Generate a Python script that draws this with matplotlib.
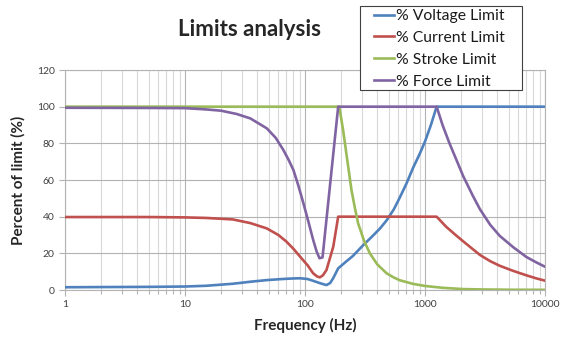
import matplotlib
matplotlib.use("Agg")
import matplotlib.pyplot as plt
from matplotlib.patches import Rectangle
from matplotlib.ticker import LogLocator, FixedLocator, NullFormatter

plt.rcParams['font.family'] = ['Lato', 'DejaVu Sans']

# values
freq_voltage = [1, 2, 5, 10, 15, 25, 35, 48, 65, 80, 91, 105, 117, 135, 151, 162, 172, 189,
                220, 250, 306, 360, 421, 479, 550, 617, 700, 800, 900, 1000, 1120, 1250, 10000]
voltage = [1.5, 1.6, 1.7, 1.9, 2.3, 3.4, 4.5, 5.4, 6.0, 6.3, 6.4, 6.0, 5.0, 3.6, 2.7, 3.8, 6.5, 11.8,
           15.5, 18.5, 24.5, 29, 33.5, 38, 44, 50.5, 58, 67, 74, 81, 90, 100, 100]

freq_current = [1, 5, 10, 15, 25, 35, 48, 60, 70, 80, 91, 105, 117, 126, 133, 141, 151, 172, 189,
                1250, 1500, 1800, 2085, 2500, 2873, 3500, 4200, 5446, 7000, 8500, 10000]
current = [39.8, 39.8, 39.6, 39.3, 38.5, 36.5, 33.6, 30, 26.4, 22.5, 18.2, 13.5, 9.1, 7.4, 6.9, 8, 10.9, 23.6, 40,
           40, 34.5, 30, 26.5, 22.3, 19.1, 15.7, 13.2, 10.4, 8, 6.3, 5.1]

freq_stroke = [1, 193, 208, 223, 244, 260, 277, 310, 347, 400, 479, 550, 617, 800, 1000, 1400,
               2085, 3000, 5000, 10000]
stroke = [100, 100, 87, 72.7, 54.5, 45, 36.4, 27, 20, 14, 9.1, 6.8, 5.3, 3.3, 2.2, 1.2,
          0.5, 0.3, 0.15, 0.1]

freq_force = [1, 5, 10, 15, 20, 27, 35, 48, 57, 66, 73, 80, 88, 97, 107, 117, 125, 132, 140, 189,
              1250, 1400, 1600, 1800, 2085, 2500, 2873, 3500, 4200, 5446, 7000, 8500, 10000]
force = [99.4, 99.3, 99.2, 98.5, 97.8, 96, 93.6, 88.2, 83, 76.4, 71, 65.5, 57, 47.3, 37, 27.3, 21, 17.3, 17.8, 100,
         100, 90, 80, 72, 62, 51.5, 44, 35.5, 29.5, 23.3, 18, 15, 12.7]

series_names = ["% Voltage Limit", "% Current Limit", "% Stroke Limit", "% Force Limit"]
colors = ["#4F81BD", "#C0504D", "#9BBB59", "#8064A2"]
y_ticks = [0, 20, 40, 60, 80, 100, 120]
x_ticks = [1, 10, 100, 1000, 10000]

fig = plt.figure(figsize=(5.73, 3.40), dpi=100)
ax = fig.add_axes([65 / 573, 50 / 340, 480 / 573, 220 / 340])

data = [(freq_voltage, voltage), (freq_current, current), (freq_stroke, stroke), (freq_force, force)]
for (f, v), name, c in zip(data, series_names, colors):
    ax.plot(f, v, color=c, lw=1.9, label=name, solid_joinstyle='round', zorder=3)

ax.set_xscale('log')
ax.set_xlim(1, 10000)
ax.set_ylim(0, 120)
ax.xaxis.set_major_locator(FixedLocator(x_ticks))
ax.set_xticklabels([str(t) for t in x_ticks])
ax.xaxis.set_minor_locator(LogLocator(base=10, subs=range(2, 10)))
ax.xaxis.set_minor_formatter(NullFormatter())
ax.set_yticks(y_ticks)

ax.grid(which='major', color='#B3B3B3', lw=0.8, zorder=0)
ax.grid(which='minor', axis='x', color='#D9D9D9', lw=0.8, zorder=0)
for s in ax.spines.values():
    s.set_color('#B3B3B3')
    s.set_linewidth(0.8)
ax.tick_params(which='both', colors='#B3B3B3', labelcolor='#404040', labelsize=7.5, length=4, width=0.8)
ax.tick_params(which='minor', length=3)

ax.set_xlabel("Frequency (Hz)", fontsize=11, fontweight='bold', color='#262626', labelpad=6)
ax.set_ylabel("Percent of limit (%)", fontsize=11, fontweight='bold', color='#262626', labelpad=8)
fig.text(249 / 573, 1 - 30 / 340, "Limits analysis", fontsize=16, fontweight='bold',
         color='#262626', ha='center', va='center')

# legend box drawn separately so the left padding matches the original
box = Rectangle((360 / 573, 250 / 340), 162 / 573, 84 / 340, transform=fig.transFigure,
                facecolor='white', edgecolor='#404040', lw=0.8, zorder=5)
fig.patches.append(box)
leg = fig.legend(loc='upper left', bbox_to_anchor=(374 / 573, 1 - 9 / 340), fontsize=11.3,
                 frameon=False, handlelength=1.3, handletextpad=0.1, labelspacing=0.5,
                 borderpad=0.0, borderaxespad=0)
leg.set_zorder(6)
for t in leg.get_texts():
    t.set_color('#1A1A1A')

fig.savefig("out.png", dpi=100)
